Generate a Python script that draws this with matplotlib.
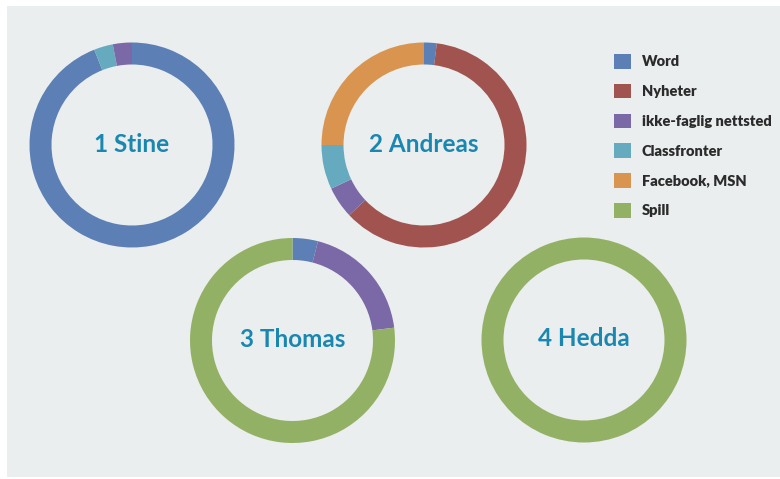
import matplotlib.pyplot as plt
from matplotlib.patches import Rectangle, Patch

# categories and colours (legend order)
categories = ['Word', 'Nyheter', 'ikke-faglig nettsted', 'Classfronter', 'Facebook, MSN', 'Spill']
colors = ['#5c80b5', '#a0534f', '#7b68a6', '#66aabf', '#d9944f', '#93b165']

people = ['1 Stine', '2 Andreas', '3 Thomas', '4 Hedda']
# share of time per category, in legend order
stine = [94, 0, 3, 3, 0, 0]
andreas = [2, 61, 5, 7, 25, 0]
thomas = [4, 0, 19, 0, 0, 77]
hedda = [0, 0, 0, 0, 0, 100]
values = [stine, andreas, thomas, hedda]
# clockwise drawing order from 12 o'clock
orders = [[0, 3, 2], [0, 1, 2, 3, 4], [0, 2, 5], [5]]

centers = [(132, 145), (424, 145), (292.5, 340.5), (584, 340)]
R = 102.5
RING = 22

plt.rcParams['font.family'] = ['Lato', 'DejaVu Sans']

fig = plt.figure(figsize=(7.8, 4.79), dpi=100)
fig.patch.set_facecolor('white')
ax = fig.add_axes([0, 0, 1, 1])

ax.add_patch(Rectangle((7, 6), 780 - 7, 471, facecolor='#eaeeef', edgecolor='none', zorder=0))

for name, vals, order, c in zip(people, values, orders, centers):
    v = [vals[i] for i in order]
    cl = [colors[i] for i in order]
    # y axis is inverted, so counterclock=True draws clockwise on screen
    ax.pie(v, colors=cl, center=c, radius=R, startangle=-90, counterclock=True,
           wedgeprops=dict(width=RING, linewidth=0), frame=True)
    ax.text(c[0], c[1] - 1, name, ha='center', va='center', fontsize=17.5,
            fontweight='bold', color='#1a87b1')

ax.set_xlim(0, 780)
ax.set_ylim(479, 0)
ax.set_aspect('equal')
ax.axis('off')

handles = [Patch(facecolor=col, edgecolor='none') for col in colors]
leg = fig.legend(handles, categories, loc='upper left', bbox_to_anchor=(614 / 780, 1 - 54 / 479),
                 frameon=False, fontsize=10.5, handlelength=1.17, handleheight=1.17,
                 handletextpad=0.75, labelspacing=1.04, borderpad=0, borderaxespad=0)
for t in leg.get_texts():
    t.set_fontweight('heavy')
    t.set_color('#2b2b2b')

fig.savefig('out.png', dpi=100)
